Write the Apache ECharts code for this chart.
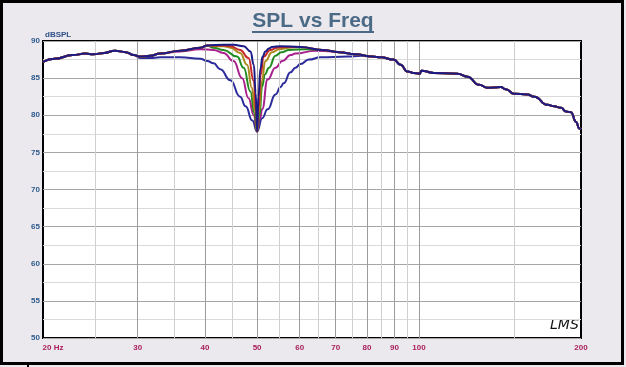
<!DOCTYPE html>
<html><head><meta charset="utf-8">
<script src="https://cdn.jsdelivr.net/npm/echarts@6/dist/echarts.min.js"></script>
<style>html,body{margin:0;padding:0;background:#ece9ee;}#c{width:626px;height:367px;}</style>
</head><body><div id="c"></div>
<script>
// ---- tick / grid values ----
const xTickValues = [20, 30, 40, 50, 60, 70, 80, 90, 100, 200];
const xMajorGrid = [30, 40, 50, 60, 70, 80, 90, 100];
const xMinorGrid = [25, 35, 45, 55, 65, 75, 85, 95, 150];
const yMin = 50, yMax = 90, yStep = 5;

// ---- shared response parts [Hz, dBSPL] ----
const commonLow = [[20,87.2],[21,87.6],[22.7,88.1],[24,88.3],[24.8,88.2],[26,88.4],[27.2,88.7],[28.5,88.5],[29.5,88.1]];
const commonHigh = [[81.9,87.9],[84.9,87.8],[89.7,87.5],[92.4,86.8],[95.1,85.9],[97.7,85.7],[100.3,85.6],[101,86.0],[106.5,85.7],[117.9,85.6],[123,85.2],[129.3,84.1],[134,83.7],[141.9,83.8],[145,83.5],[150.2,82.9],[159,82.8],[163.7,82.5],[173.4,81.4],[178.4,81.2],[183.6,81.0],[187.6,80.5],[191.6,80.4],[195.8,79.1],[198.6,78.2],[200,78.1]];
const upperLeft = [[30.3,87.9],[31.6,88.0],[33,88.3],[36,88.7],[39.2,89.1],[40.4,89.4]];
const upperRight = [[60.2,89.2],[66.1,88.8],[71,88.5],[76.2,88.2]];

// ---- notch region per curve ----
const notchWide = [[30.3,87.7],[31.6,87.7],[33,87.8],[36,87.8],[39.2,87.6],[40.4,87.3],[41.5,87.0],[42.7,86.2],[44.6,84.7],[46.5,82.5],[47.6,81.2],[49,79.3],[50,77.8],[51.1,79.6],[52.3,80.8],[54.1,82.8],[55.3,83.8],[56,84.3],[57.7,85.8],[58.9,86.4],[60.2,86.9],[62.4,87.5],[65.6,87.8],[73.7,87.9],[78,88.0]];
const notchMagenta = [[30.3,87.9],[31.6,88.0],[33,88.3],[36,88.6],[39.2,88.9],[41.5,88.8],[43.3,88.4],[45.2,87.3],[46.9,85.0],[48.2,82.3],[49.3,80.0],[50,77.8],[50.6,79.5],[51.1,80.8],[52.3,84.8],[54.1,86.4],[55.7,87.3],[57.7,88.1],[58.9,88.3],[64.2,88.7],[69,88.6],[71,88.5],[76.2,88.2]];
const notchGreen = [[41.5,89.1],[43.3,88.8],[45.9,87.9],[47.2,86.4],[48.6,83.2],[49.4,80.3],[50,77.8],[50.5,80.0],[51.1,83.9],[51.7,85.5],[52.6,86.4],[54.1,88.0],[55.5,88.5],[57.3,88.8],[61.5,88.9],[66.1,88.8],[71,88.5],[76.2,88.2]];
const notchOlive = [[41.5,89.3],[43.3,89.3],[44.6,89.1],[46.5,88.4],[47.9,86.8],[48.9,83.7],[49.6,80.5],[50,77.8],[50.4,80.5],[51,84.5],[51.8,87.3],[53.3,88.5],[55,88.9],[57.3,89.1]];
const notchRed = [[43.3,89.4],[44.6,89.3],[46.5,88.8],[48.2,87.7],[49.3,84.6],[49.8,80.5],[50,77.8],[50.3,81.0],[50.8,85.5],[51.4,87.9],[52.9,88.8],[54.5,89.1],[56.4,89.2]];
const notchNavy = [[43.3,89.5],[45.2,89.5],[47.2,89.3],[48.6,88.6],[49.3,86.8],[49.7,83.0],[50,77.8],[50.3,82.5],[50.7,86.3],[51.2,87.9],[51.8,88.6],[52.6,89.0],[53.3,89.2],[55.3,89.3]];

const seriesNames = ['wide', 'magenta', 'green', 'olive', 'red', 'navy'];
const seriesColors = ['#2b2b9c', '#a8208e', '#1f8a1f', '#a88a1a', '#c62a2a', '#1b1b86'];

const curves = [
  commonLow.concat(notchWide, commonHigh),
  commonLow.concat(notchMagenta, commonHigh),
  commonLow.concat(upperLeft, notchGreen, commonHigh),
  commonLow.concat(upperLeft, notchOlive, upperRight, commonHigh),
  commonLow.concat(upperLeft, notchRed, upperRight, commonHigh),
  commonLow.concat(upperLeft, notchNavy, upperRight, commonHigh)
];

const chart = echarts.init(document.getElementById('c'), null, {renderer: 'canvas'});
const labelFont = {fontFamily: 'Liberation Sans', fontWeight: 'bold', fontSize: 8};

const gridLines = xMajorGrid.map(v => ({xAxis: v, lineStyle: {color: '#9c9c9c', width: 1, type: 'solid'}}))
  .concat(xMinorGrid.map(v => ({xAxis: v, lineStyle: {color: '#cfcfcf', width: 1, type: 'solid'}})));

const series = [{
  type: 'line', name: 'grid', data: [], z: 1, silent: true,
  markLine: {silent: true, symbol: ['none', 'none'], label: {show: false}, animation: false, data: gridLines}
}].concat(curves.map((d, i) => ({
  type: 'line', name: seriesNames[i], data: d, z: 3 + i,
  showSymbol: false, smooth: 0.5, smoothMonotone: 'x',
  lineStyle: {color: seriesColors[i], width: 2}, itemStyle: {color: seriesColors[i]}
})));

chart.setOption({
  animation: false,
  backgroundColor: '#ece9ee',
  grid: {left: 43, top: 41, right: 45, bottom: 29, show: true, backgroundColor: '#ffffff', borderColor: '#000', borderWidth: 2},
  xAxis: {
    type: 'log', logBase: 10, min: 20, max: 200,
    axisLine: {show: false}, axisTick: {show: false}, splitLine: {show: false},
    axisLabel: Object.assign({
      color: '#a8205c', margin: 6, customValues: xTickValues,
      formatter: v => (Math.round(v) === 20 ? '{h|20 Hz}' : String(Math.round(v))),
      rich: {h: Object.assign({color: '#a8205c', padding: [0, 0, 0, 20]}, labelFont)}
    }, labelFont)
  },
  yAxis: {
    type: 'value', min: yMin, max: yMax, interval: yStep,
    axisLine: {show: false}, axisTick: {show: false},
    axisLabel: Object.assign({color: '#2d5a8c', margin: 3}, labelFont),
    splitLine: {show: true, lineStyle: {color: '#a6a6a6', width: 1}},
    minorTick: {show: false, splitNumber: 2},
    minorSplitLine: {show: true, lineStyle: {color: '#dadada', width: 1}}
  },
  graphic: [
    {type: 'rect', silent: true, shape: {x: 1.5, y: 1.5, width: 621, height: 362}, style: {fill: 'none', stroke: '#000', lineWidth: 3}},
    {type: 'line', silent: true, shape: {x1: 28, y1: 364, x2: 28, y2: 367}, style: {stroke: '#000', lineWidth: 2}},
    {type: 'text', silent: true, x: 313, y: 21, style: {text: 'SPL vs Freq', fill: '#4a6a86', font: 'bold 21px "Liberation Sans"', textAlign: 'center', textVerticalAlign: 'middle'}},
    {type: 'line', silent: true, shape: {x1: 252, y1: 32, x2: 374, y2: 32}, style: {stroke: '#4a6a86', lineWidth: 2}},
    {type: 'text', silent: true, x: 45, y: 35, style: {text: 'dBSPL', fill: '#2d4f88', font: 'bold 8px "Liberation Sans"', textVerticalAlign: 'middle'}},
    {type: 'text', silent: true, x: 550, y: 318, style: {text: 'LMS', fill: '#111', font: 'italic 14px "DejaVu Sans"', textVerticalAlign: 'top'}}
  ],
  series: series
});
</script>
</body></html>
